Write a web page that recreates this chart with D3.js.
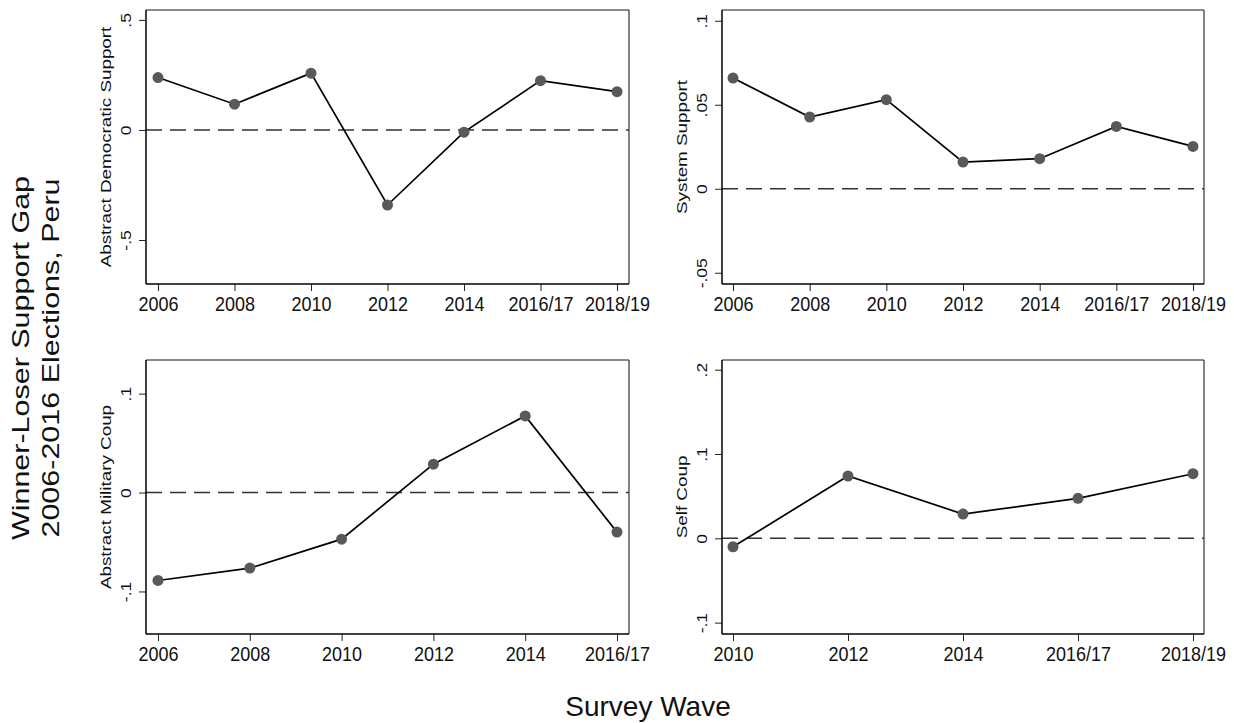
<!DOCTYPE html>
<html>
<head>
<meta charset="utf-8">
<script src="https://cdn.jsdelivr.net/npm/d3@7"></script>
<style>
    body { margin: 0; background: #fff; }
    svg { display: block; }
</style>
</head>
<body>
<div class="chart"></div>
<script>
var width = 1234;
var height = 723;
var fontFam = 'Liberation Sans, Arial, sans-serif';

// survey waves for each panel
var wavesFull = ['2006', '2008', '2010', '2012', '2014', '2016/17', '2018/19'];
var wavesMil = ['2006', '2008', '2010', '2012', '2014', '2016/17'];
var wavesSelf = ['2010', '2012', '2014', '2016/17', '2018/19'];

// winner-loser gap
var demSupport = [0.238, 0.117, 0.258, -0.341, -0.010, 0.224, 0.174];
var sysSupport = [0.0659, 0.0427, 0.0530, 0.0159, 0.0179, 0.0371, 0.0252];
var milCoup = [-0.0889, -0.0764, -0.0471, 0.0287, 0.0775, -0.0400];
var selfCoup = [-0.0100, 0.0739, 0.0288, 0.0474, 0.0766];

// y ticks
var demTicks = [-0.5, 0, 0.5];
var demTickLabels = ['-.5', '0', '.5'];
var sysTicks = [-0.05, 0, 0.05, 0.1];
var sysTickLabels = ['-.05', '0', '.05', '.1'];
var milTicks = [-0.1, 0, 0.1];
var milTickLabels = ['-.1', '0', '.1'];
var selfTicks = [-0.1, 0, 0.1, 0.2];
var selfTickLabels = ['-.1', '0', '.1', '.2'];

var svg = d3.select('.chart').append('svg')
    .attr('width', width)
    .attr('height', height);

var panels = [
    {title: 'Abstract Democratic Support', cats: wavesFull, vals: demSupport, ticks: demTicks, labels: demTickLabels,
        yDom: [-0.7, 0.545], x0: 146, x1: 629, y0: 10, y1: 284, pad: 12},
    {title: 'System Support', cats: wavesFull, vals: sysSupport, ticks: sysTicks, labels: sysTickLabels,
        yDom: [-0.0567, 0.1064], x0: 722, x1: 1204, y0: 10, y1: 284, pad: 11},
    {title: 'Abstract Military Coup', cats: wavesMil, vals: milCoup, ticks: milTicks, labels: milTickLabels,
        yDom: [-0.143, 0.134], x0: 146, x1: 629, y0: 360, y1: 634, pad: 12},
    {title: 'Self Coup', cats: wavesSelf, vals: selfCoup, ticks: selfTicks, labels: selfTickLabels,
        yDom: [-0.1135, 0.2115], x0: 722, x1: 1204, y0: 360, y1: 634, pad: 11}
];

panels.forEach(function (p) {
    drawPanel(p);
});

function drawPanel(p) {
    var x = d3.scalePoint()
        .domain(p.cats)
        .range([p.x0 + p.pad, p.x1 - p.pad]);
    var y = d3.scaleLinear()
        .domain(p.yDom)
        .range([p.y1, p.y0]);

    var g = svg.append('g');

    // frame
    g.append('line')
        .attr('x1', p.x0).attr('x2', p.x1)
        .attr('y1', p.y0).attr('y2', p.y0)
        .attr('stroke', '#8a8a8a')
        .attr('stroke-width', 2);
    g.append('line')
        .attr('x1', p.x1).attr('x2', p.x1)
        .attr('y1', p.y0).attr('y2', p.y1)
        .attr('stroke', '#333')
        .attr('stroke-width', 1.2);

    // zero reference line
    g.append('line')
        .attr('x1', p.x0).attr('x2', p.x1)
        .attr('y1', y(0)).attr('y2', y(0))
        .attr('stroke', '#333')
        .attr('stroke-width', 1.6)
        .attr('stroke-dasharray', '16,8');

    // x axis
    var xAxis = g.append('g')
        .attr('transform', 'translate(0,' + p.y1 + ')')
        .call(d3.axisBottom(x).tickSize(7).tickSizeOuter(0));
    xAxis.select('.domain').remove();
    xAxis.append('line')
        .attr('x1', p.x0).attr('x2', p.x1)
        .attr('stroke', '#000')
        .attr('stroke-width', 1.5);
    xAxis.selectAll('.tick line').attr('stroke', '#222');
    xAxis.selectAll('.tick text')
        .attr('y', 0)
        .attr('dy', null)
        .attr('fill', '#111')
        .attr('font-family', fontFam)
        .attr('font-size', 18)
        .attr('transform', 'translate(0,27) scale(1,1.1)');

    // y axis
    var yAxis = g.append('g')
        .attr('transform', 'translate(' + p.x0 + ',0)')
        .call(d3.axisLeft(y).tickValues(p.ticks).tickSize(7).tickSizeOuter(0)
            .tickFormat(function (d, i) { return p.labels[i]; }));
    yAxis.select('.domain').remove();
    yAxis.append('line')
        .attr('y1', p.y0).attr('y2', p.y1)
        .attr('stroke', '#000')
        .attr('stroke-width', 1.5);
    yAxis.selectAll('.tick line').attr('stroke', '#222');
    yAxis.selectAll('.tick text')
        .attr('x', 0)
        .attr('dy', null)
        .attr('text-anchor', 'middle')
        .attr('fill', '#111')
        .attr('font-family', fontFam)
        .attr('font-size', 14)
        .attr('transform', 'translate(-15,0) scale(1,1.25) rotate(-90)');

    // panel title on the y side
    g.append('text')
        .attr('transform', 'translate(' + (p.x0 - 35) + ',' + ((p.y0 + p.y1) / 2) + ') scale(1,1.3) rotate(-90)')
        .attr('text-anchor', 'middle')
        .attr('font-family', fontFam)
        .attr('font-size', 14.5)
        .attr('fill', '#111')
        .text(p.title);

    // line and markers
    var pts = p.cats.map(function (c, i) { return {cat: c, val: p.vals[i]}; });
    var line = d3.line()
        .x(function (d) { return x(d.cat); })
        .y(function (d) { return y(d.val); });
    g.append('path')
        .datum(pts)
        .attr('d', line)
        .attr('fill', 'none')
        .attr('stroke', '#000')
        .attr('stroke-width', 1.7);
    g.selectAll('circle')
        .data(pts)
        .enter()
        .append('circle')
            .attr('cx', function (d) { return x(d.cat); })
            .attr('cy', function (d) { return y(d.val); })
            .attr('r', 5.5)
            .attr('fill', '#595959');
}

// overall titles
svg.append('text')
    .attr('transform', 'translate(29,358) scale(1,1.27) rotate(-90)')
    .attr('text-anchor', 'middle')
    .attr('font-family', fontFam)
    .attr('font-size', 24)
    .attr('fill', '#111')
    .text('Winner-Loser Support Gap');
svg.append('text')
    .attr('transform', 'translate(59,358) scale(1,1.27) rotate(-90)')
    .attr('text-anchor', 'middle')
    .attr('font-family', fontFam)
    .attr('font-size', 24)
    .attr('fill', '#111')
    .text('2006-2016 Elections, Peru');

svg.append('text')
    .attr('x', 648)
    .attr('y', 716)
    .attr('text-anchor', 'middle')
    .attr('font-family', fontFam)
    .attr('font-size', 28)
    .attr('fill', '#111')
    .text('Survey Wave');
</script>
</body>
</html>
